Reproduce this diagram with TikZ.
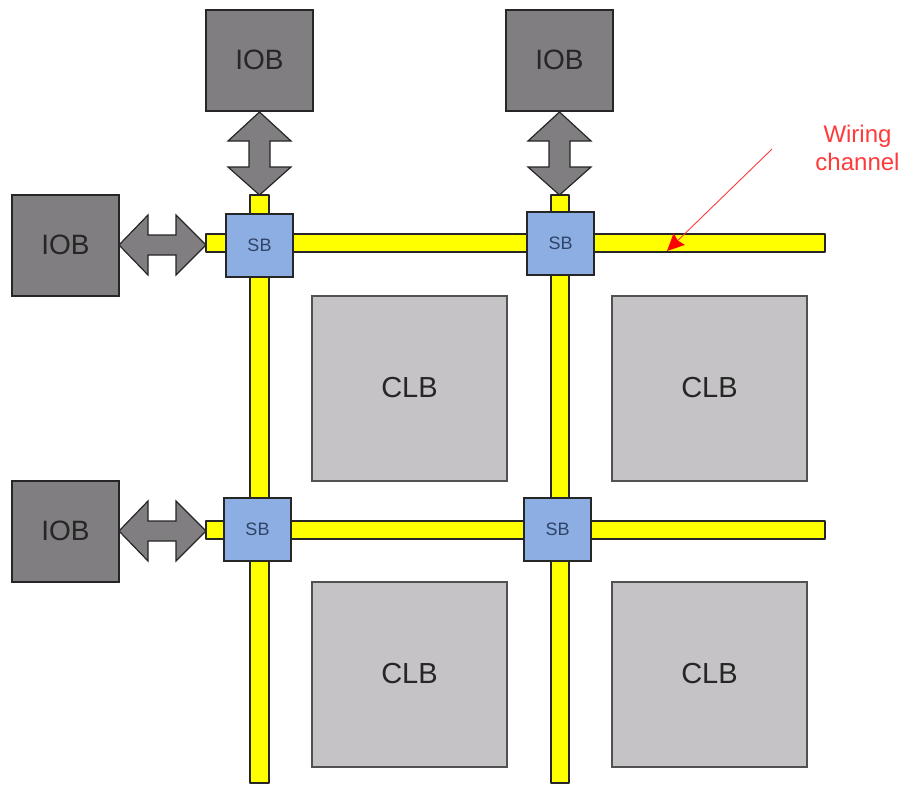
\documentclass[tikz,border=0pt]{standalone}
\usepackage{fontspec}
\setmainfont{Liberation Sans}
\usetikzlibrary{arrows.meta}
\definecolor{iobgray}{HTML}{807E80}
\definecolor{clbgray}{HTML}{C5C3C5}
\definecolor{sbblue}{HTML}{8DAEE2}
\definecolor{sbtext}{HTML}{2F4468}
\definecolor{wire}{HTML}{FFFF00}
\definecolor{edge}{HTML}{262626}
\definecolor{note}{HTML}{FF3A3A}
\tikzset{
  x=1pt,y=-1pt,
  boxbase/.style={draw=edge,line width=1.3pt,anchor=north west,inner sep=0pt,outer sep=0pt},
  wirebar/.style={draw=edge,line width=1.3pt,fill=wire,line join=round},
  busarrow/.style={draw=edge,line width=1.2pt,fill=iobgray,line join=miter},
  iob/.style={boxbase,fill=iobgray,minimum width=107pt,minimum height=101pt,font=\fontsize{28}{30}\selectfont,text=black!85},
  clb/.style={boxbase,draw=edge!80,fill=clbgray,minimum width=195pt,minimum height=185pt,font=\fontsize{29}{30}\selectfont,text=black!85},
  sb/.style={boxbase,fill=sbblue,minimum width=67pt,minimum height=63pt,font=\fontsize{18}{20}\selectfont,text=sbtext},
}
\newcommand{\lift}[1]{\raisebox{2pt}{#1}\hspace{3pt}}
\newcommand{\liftsb}[1]{\raisebox{1pt}{#1}\hspace{2pt}}
% vertical double arrow: centre x, top y, wing y1, wing y2, bottom y
\newcommand{\vbus}[5]{\draw[busarrow] (#1,#2) -- (#1+31.5,#3) -- (#1+10.5,#3) -- (#1+10.5,#4) -- (#1+31.5,#4) -- (#1,#5) -- (#1-31.5,#4) -- (#1-10.5,#4) -- (#1-10.5,#3) -- (#1-31.5,#3) -- cycle;}
% horizontal double arrow: centre y
\newcommand{\hbus}[1]{\draw[busarrow] (119,#1) -- (148,#1-30) -- (148,#1-10) -- (176,#1-10) -- (176,#1-30) -- (206,#1) -- (176,#1+30) -- (176,#1+10) -- (148,#1+10) -- (148,#1+30) -- cycle;}
\begin{document}
\begin{tikzpicture}
\useasboundingbox (0,0) rectangle (904,785);
% wiring channels
\draw[wirebar] (250,195) rectangle (269,783);
\draw[wirebar] (551,195) rectangle (569,783);
\draw[wirebar] (206,234) rectangle (825,252);
\draw[wirebar] (206,521) rectangle (825,539);
% IOBs
\node[iob] (iobA) at (206,10) {\lift{IOB}};
\node[iob] (iobB) at (506,10) {\lift{IOB}};
\node[iob] (iobC) at (12,195) {\lift{IOB}};
\node[iob] (iobD) at (12,481) {\lift{IOB}};
% CLBs
\node[clb] (clbA) at (312,296) {\lift{CLB}};
\node[clb] (clbB) at (612,296) {\lift{CLB}};
\node[clb] (clbC) at (312,582) {\lift{CLB}};
\node[clb] (clbD) at (612,582) {\lift{CLB}};
% switch boxes
\node[sb] (sbA) at (226,214) {\liftsb{SB}};
\node[sb] (sbB) at (527,212) {\liftsb{SB}};
\node[sb] (sbC) at (224,498) {\liftsb{SB}};
\node[sb] (sbD) at (524,498) {\liftsb{SB}};
% bidirectional buses
\vbus{259.5}{112}{141}{167}{195}
\vbus{559.5}{112}{141}{167}{195}
\hbus{245}
\hbus{531}
% annotation
\node[text=note,font=\fontsize{24}{28}\selectfont,align=center] (label) at (857.5,148) {Wiring\\channel};
\coordinate (tail) at (772,149);
\coordinate (tip) at (667,251);
\draw[draw=note,line width=0.9pt,-{Stealth[length=17pt,width=16pt,inset=2pt,color=red]}] (tail) -- (tip);
\end{tikzpicture}
\end{document}
